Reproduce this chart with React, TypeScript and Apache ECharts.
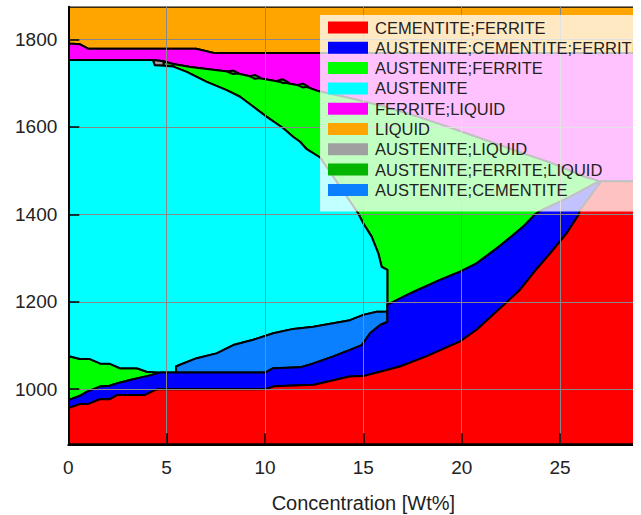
import React, { useEffect, useRef } from "react";
import * as echarts from "echarts";

// Phase names (legend order) and their fill colours
const phaseNames = [
  "CEMENTITE;FERRITE",
  "AUSTENITE;CEMENTITE;FERRITE",
  "AUSTENITE;FERRITE",
  "AUSTENITE",
  "FERRITE;LIQUID",
  "LIQUID",
  "AUSTENITE;LIQUID",
  "AUSTENITE;FERRITE;LIQUID",
  "AUSTENITE;CEMENTITE",
];
const phaseColors = [
  "#ff0000",
  "#0000ff",
  "#00ff00",
  "#00ffff",
  "#ff00ff",
  "#ffa500",
  "#a0a0a0",
  "#00b400",
  "#0a80ff",
];

// Axis extents
const xRange = [0, 30];
const yRange = [874, 1875];

// Phase boundaries [concentration Wt%, temperature]
const liquidus = [[0, 1791], [0.6, 1789], [1.0, 1779], [6.5, 1779], [7.4, 1769], [30, 1769]];
const ferriteLiquidBase = [
  [0, 1753], [4.3, 1753], [4.85, 1750], [5.34, 1744], [6.2, 1737], [8.2, 1726], [9.4, 1714],
  [10.8, 1703], [12.1, 1692], [12.7, 1682], [14.4, 1665], [16.1, 1646], [17.8, 1623],
  [19.5, 1597], [21.2, 1570], [22.9, 1543], [24.6, 1517], [26.25, 1486], [27.0, 1476], [30, 1476],
];
const austeniteTop = [[0, 1753], [4.3, 1753], [4.4, 1741], [4.85, 1740], [5.34, 1738]];
const austeniteFerriteRight = [
  [5.34, 1738], [6.02, 1726], [7.04, 1703], [8.05, 1684], [8.73, 1669], [9.41, 1646],
  [10.09, 1623], [10.93, 1597], [11.44, 1577], [11.78, 1566], [12.12, 1549], [12.8, 1530],
  [14.74, 1402], [15.0, 1379], [15.42, 1349], [15.76, 1311], [15.93, 1280], [16.22, 1273],
];
const ferriteThreePhase = [
  [16.22, 1193], [17.37, 1219], [18.9, 1250], [19.92, 1269], [20.76, 1288], [21.27, 1305],
  [21.95, 1328], [22.62, 1353], [23.13, 1372], [23.73, 1400], [24.0, 1408], [25.5, 1440], [27.0, 1476],
];
const cementiteFerriteTop = [
  [0, 957], [0.6, 966], [1.0, 966], [1.6, 977], [2.1, 977], [2.5, 987], [3.9, 987], [4.4, 998],
  [4.6, 1000], [10, 1000], [10.5, 1007], [12.5, 1010], [14.3, 1029], [15, 1030], [15.85, 1040],
  [16.86, 1052], [18.2, 1075], [19.9, 1109], [20.76, 1136], [21.95, 1185], [22.96, 1227],
  [23.81, 1275], [24.5, 1311], [25.34, 1357], [25.93, 1398], [26.0, 1409], [27.1, 1476], [30, 1476],
];
const threePhaseTop = [
  [0, 975], [0.6, 985], [0.93, 994], [1.6, 1006], [2.1, 1008], [2.6, 1015], [3.3, 1023],
  [4.0, 1030], [4.66, 1038], [5.48, 1038], [10, 1038], [10.42, 1048], [11.78, 1050],
  [12.46, 1059], [13.47, 1075], [14.32, 1090], [14.92, 1101], [15.34, 1128], [15.85, 1147], [16.22, 1154],
];
const austeniteCementiteTop = [
  [5.48, 1038], [5.48, 1052], [5.68, 1056], [6.53, 1071], [7.54, 1082], [8.39, 1101],
  [9.4, 1113], [10.42, 1128], [11.44, 1138], [12.46, 1143], [13.47, 1151], [14.32, 1158],
  [15.0, 1170], [15.68, 1177], [16.22, 1177],
];
const austeniteFerriteLeftTop = [
  [0, 1076], [0.6, 1069], [1.1, 1069], [1.61, 1059], [2.12, 1058], [2.63, 1048],
  [3.48, 1048], [3.99, 1040], [4.66, 1038],
];
const austeniteLiquidPocket = [[4.3, 1753], [4.85, 1750], [4.85, 1740], [4.4, 1741]];
const threePhaseLiquidPocket = [[4.85, 1750], [5.34, 1744], [5.34, 1738], [4.85, 1740]];
// Tiny three-phase lenses along the ferrite+liquid boundary
const boundaryLenses = [
  [[8.1, 1726], [8.37, 1729], [8.65, 1723], [8.37, 1721]],
  [[9.22, 1716], [9.49, 1719], [9.77, 1712], [9.49, 1710]],
  [[10.64, 1706], [10.91, 1709], [11.19, 1702], [10.91, 1700]],
  [[11.66, 1696], [11.93, 1699], [12.21, 1692], [11.93, 1690]],
];

const rev = (a: number[][]) => a.slice().reverse();
const between = (a: number[][], x0: number, x1: number) => a.filter((p) => p[0] >= x0 && p[0] <= x1);

function buildRegions(): { name: string; pts: number[][] }[] {
  return [
    { name: "LIQUID", pts: [[xRange[0], yRange[1]], [xRange[1], yRange[1]], ...rev(liquidus)] },
    { name: "FERRITE;LIQUID", pts: [...liquidus, ...rev(ferriteLiquidBase)] },
    { name: "AUSTENITE;LIQUID", pts: austeniteLiquidPocket },
    { name: "AUSTENITE;FERRITE;LIQUID", pts: threePhaseLiquidPocket },
    {
      name: "AUSTENITE;FERRITE",
      pts: [...between(ferriteLiquidBase, 5.34, 27.0), ...rev(ferriteThreePhase), ...rev(austeniteFerriteRight)],
    },
    { name: "AUSTENITE;FERRITE", pts: [...austeniteFerriteLeftTop, ...rev(between(threePhaseTop, 0, 4.66))] },
    {
      name: "AUSTENITE",
      pts: [
        ...austeniteTop,
        ...austeniteFerriteRight.slice(1),
        ...rev(austeniteCementiteTop),
        [4.66, 1038],
        ...rev(austeniteFerriteLeftTop).slice(1),
      ],
    },
    { name: "AUSTENITE;CEMENTITE", pts: [...austeniteCementiteTop, ...rev(between(threePhaseTop, 5.48, 16.22))] },
    {
      name: "AUSTENITE;CEMENTITE;FERRITE",
      pts: [...threePhaseTop, ...ferriteThreePhase, ...rev(between(cementiteFerriteTop, 0, 27.1))],
    },
    { name: "CEMENTITE;FERRITE", pts: [...cementiteFerriteTop, [xRange[1], yRange[0]], [xRange[0], yRange[0]]] },
    ...boundaryLenses.map((pts) => ({ name: "AUSTENITE;FERRITE;LIQUID", pts })),
  ];
}

const FONT = "'Liberation Sans', Arial, Helvetica, sans-serif";

export default function App() {
  const ref = useRef<HTMLDivElement>(null);
  useEffect(() => {
    if (!ref.current) return;
    const chart = echarts.init(ref.current, undefined, { renderer: "svg" });
    const regions = buildRegions();
    const series = regions.map((r) => {
      const color = phaseColors[phaseNames.indexOf(r.name)];
      return {
        type: "custom",
        name: r.name,
        data: r.pts,
        encode: { x: 0, y: 1 },
        clip: true,
        silent: true,
        itemStyle: { color, borderWidth: 0 },
        renderItem: (params: any, api: any) => {
          if (params.dataIndex !== 0) return null;
          return {
            type: "polygon",
            shape: { points: r.pts.map((p) => api.coord(p)) },
            style: { fill: color, stroke: "#000", lineWidth: 2, lineJoin: "round" },
          };
        },
      };
    });
    chart.setOption({
      animation: false,
      textStyle: { fontFamily: FONT },
      grid: {
        left: 68.3,
        top: 6.7,
        width: 590.1,
        height: 437.6,
        containLabel: false,
        outerBoundsMode: "none",
      },
      legend: {
        data: phaseNames,
        orient: "vertical",
        left: 320,
        top: 15,
        padding: [4, 8, 13, 8],
        itemWidth: 40,
        itemHeight: 12,
        itemGap: 3.3,
        icon: "rect",
        selectedMode: false,
        backgroundColor: "rgba(255,255,255,0.76)",
        z: 10,
        textStyle: { fontSize: 16.5, color: "#222", fontFamily: FONT, padding: [0, 0, 0, 2] },
      },
      xAxis: {
        type: "value",
        min: xRange[0],
        max: xRange[1],
        interval: 5,
        z: 5,
        name: "Concentration [Wt%]",
        nameLocation: "middle",
        nameGap: 49,
        nameTextStyle: { fontSize: 20, color: "#222", fontFamily: FONT },
        axisLine: { show: true, lineStyle: { color: "#000", width: 2 } },
        axisTick: { show: true, inside: true, length: 11, lineStyle: { color: "#000", width: 1.5 } },
        axisLabel: { fontSize: 19, color: "#222", margin: 14, showMaxLabel: false, fontFamily: FONT },
        splitLine: { show: true, lineStyle: { color: "#888", width: 1 } },
      },
      yAxis: {
        type: "value",
        min: yRange[0],
        max: yRange[1],
        z: 5,
        axisLine: { show: true, lineStyle: { color: "#000", width: 2 } },
        axisTick: { show: true, inside: true, length: 11, lineStyle: { color: "#000", width: 1.5 } },
        axisLabel: {
          fontSize: 19,
          color: "#222",
          margin: 11,
          showMinLabel: false,
          showMaxLabel: false,
          fontFamily: FONT,
          formatter: (v: number) => String(v),
        },
        splitLine: { show: true, lineStyle: { color: "#888", width: 1 } },
      },
      series,
    });
    return () => chart.dispose();
  }, []);
  return (
    <div style={{ position: "absolute", left: 0, top: 0, width: 633, height: 515, overflow: "hidden", background: "#fff" }}>
      <div ref={ref} style={{ width: 680, height: 515 }} />
    </div>
  );
}
